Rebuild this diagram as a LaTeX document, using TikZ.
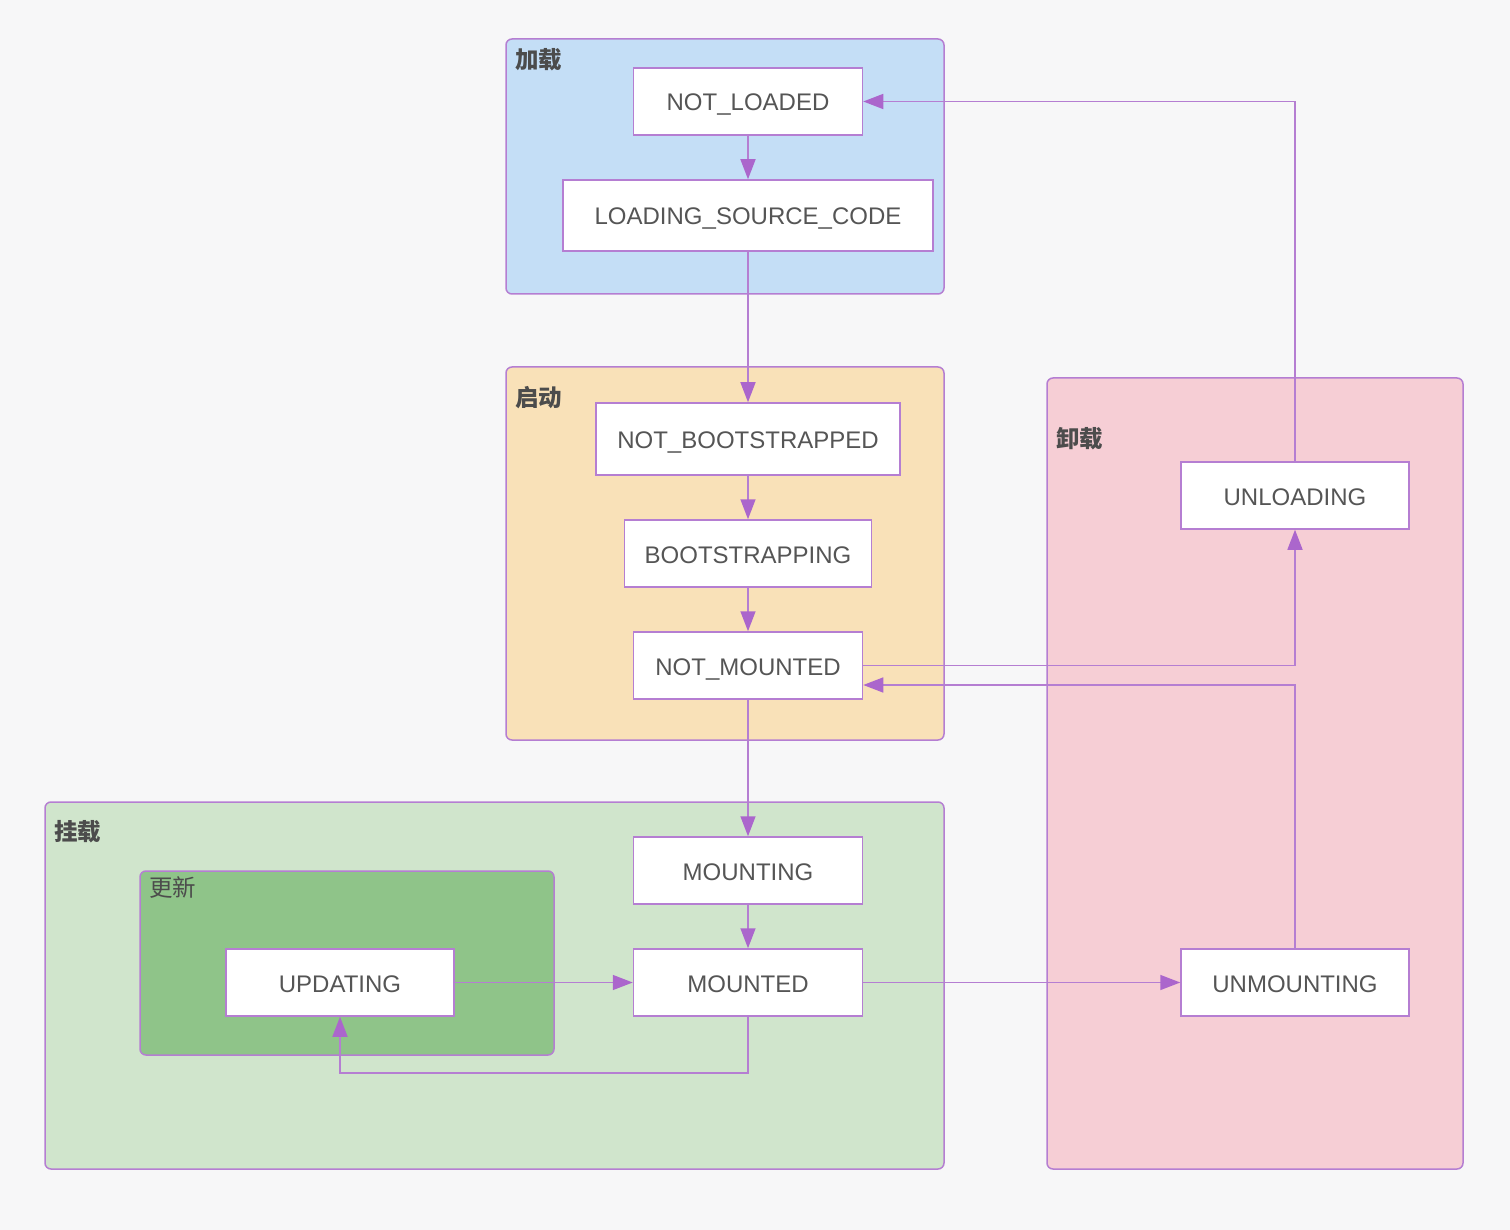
\documentclass[tikz,border=0pt]{standalone}
\usepackage{fontspec}
\setmainfont{Liberation Sans}
\newfontfamily\cjk{Noto Sans CJK SC}
\usetikzlibrary{arrows.meta}
\definecolor{bgc}{HTML}{F7F7F8}
\definecolor{lnc}{HTML}{B57ED2}
\definecolor{arc}{HTML}{AB66CC}
\definecolor{txc}{HTML}{555555}
\definecolor{bluef}{HTML}{C4DEF6}
\definecolor{orangef}{HTML}{F9E1B8}
\definecolor{pinkf}{HTML}{F6CED5}
\definecolor{lgreenf}{HTML}{D0E5CC}
\definecolor{dgreenf}{HTML}{8FC489}
\tikzset{
  grp/.style={draw=lnc, line width=1.5pt, rounded corners=6pt, inner sep=0pt, rectangle},
  state/.style={draw=lnc, fill=white, line width=1.5pt, inner sep=0pt, rectangle,
    text=txc, font=\fontsize{24}{28}\selectfont, text height=19pt, text depth=0pt},
  glabel/.style={anchor=north west, inner sep=0pt, text=txc!90!black,
    font=\cjk\bfseries\fontsize{23.5}{26}\selectfont},
  edge/.style={draw=lnc, line width=1.5pt, -{Triangle[length=20pt,width=15pt,fill=arc,color=arc]}}
}
\begin{document}
\begin{tikzpicture}[x=1pt,y=-1pt]
\fill[bgc] (0,0) rectangle (1510,1230);
\useasboundingbox (0,0) rectangle (1510,1230);
% groups
\node[grp, fill=bluef, minimum width=438pt, minimum height=255pt] (gload) at (725,166.5) {};
\node[grp, fill=orangef, minimum width=438pt, minimum height=373pt] (gboot) at (725,553.5) {};
\node[grp, fill=pinkf, minimum width=416pt, minimum height=791pt] (gunl) at (1255,773.5) {};
\node[grp, fill=lgreenf, minimum width=899pt, minimum height=367pt] (gmnt) at (494.5,985.5) {};
\node[grp, fill=dgreenf, minimum width=414pt, minimum height=184pt] (gupd) at (347,963) {};
% group labels
\node[glabel] (lload) at (515,48) {加载};
\node[glabel] (lboot) at (515,386) {启动};
\node[glabel] (lunl) at (1056,427) {卸载};
\node[glabel] (lmnt) at (54,820) {挂载};
\node[glabel, font=\cjk\fontsize{23.5}{26}\selectfont] (lupd) at (149,876) {更新};
% states
\node[state, minimum width=229pt, minimum height=67pt] (nl) at (748,101.5) {NOT\_LOADED};
\node[state, minimum width=370pt, minimum height=71pt] (lsc) at (748,215.5) {LOADING\_SOURCE\_CODE};
\node[state, minimum width=304pt, minimum height=72pt] (nb) at (748,439) {NOT\_BOOTSTRAPPED};
\node[state, minimum width=247pt, minimum height=67pt] (bs) at (748,553.5) {BOOTSTRAPPING};
\node[state, minimum width=229pt, minimum height=67pt] (nm) at (748,665.5) {NOT\_MOUNTED};
\node[state, minimum width=229pt, minimum height=67pt] (mg) at (748,870.5) {MOUNTING};
\node[state, minimum width=229pt, minimum height=67pt] (md) at (748,982.5) {MOUNTED};
\node[state, minimum width=228pt, minimum height=67pt] (upd) at (340,982.5) {UPDATING};
\node[state, minimum width=228pt, minimum height=67pt] (unl) at (1295,495.5) {UNLOADING};
\node[state, minimum width=228pt, minimum height=67pt] (unm) at (1295,982.5) {UNMOUNTING};
% edges
\draw[edge] (nl.south) -- (lsc.north);
\draw[edge] (lsc.south) -- (nb.north);
\draw[edge] (nb.south) -- (bs.north);
\draw[edge] (bs.south) -- (nm.north);
\draw[edge] (nm.south) -- (mg.north);
\draw[edge] (mg.south) -- (md.north);
\draw[edge] (upd.east) -- (md.west);
\draw[edge] (md.east) -- (unm.west);
\draw[edge] (md.south) -- ++(0,56) -| (upd.south);
\draw[edge] (nm.east) -| (unl.south);
\draw[edge] (unm.north) |- ([yshift=-19.5pt]nm.east);
\draw[edge] (unl.north) |- (nl.east);
\end{tikzpicture}
\end{document}
